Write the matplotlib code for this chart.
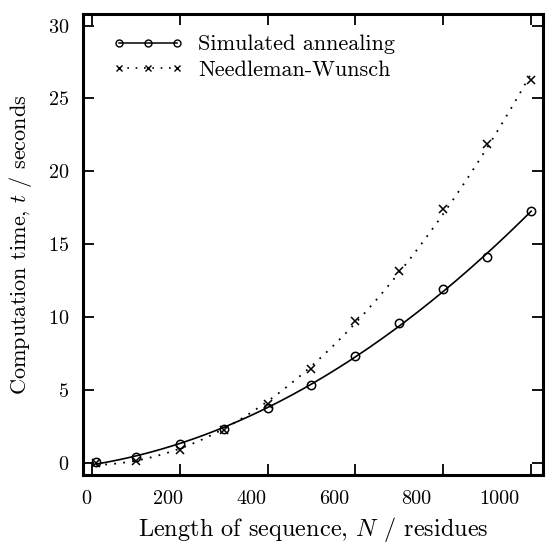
import matplotlib
matplotlib.use("Agg")
import matplotlib.pyplot as plt
import numpy as np

# sequence lengths (residues)
lengths = [10, 100, 200, 300, 400, 500, 600, 700, 800, 900, 1000]
# computation times (seconds)
sa_times = [0.05, 0.4, 1.25, 2.32, 3.72, 5.3, 7.35, 9.6, 11.95, 14.1, 17.27]
nw_times = [0.0, 0.12, 0.9, 2.25, 4.05, 6.41, 9.69, 13.13, 17.4, 21.9, 26.3]

x_ticks = [0, 200, 400, 600, 800, 1000]
y_ticks = [0, 5, 10, 15, 20, 25, 30]

plt.rcParams['font.family'] = 'serif'
plt.rcParams['font.serif'] = ['cmr10']
plt.rcParams['mathtext.fontset'] = 'cm'
plt.rcParams['axes.formatter.use_mathtext'] = True
plt.rcParams['font.size'] = 16


def fit_curve(x, y):
    # quadratic fit through the measured points
    coeffs = np.polyfit(x, y, 2)
    xs = np.linspace(min(x), max(x), 200)
    return xs, np.polyval(coeffs, xs)


fig = plt.figure(figsize=(5.52, 5.43), dpi=100)
ax = fig.add_axes([0.1504, 0.1252, 0.8333, 0.849])

xs, ys = fit_curve(lengths, sa_times)
ax.plot(xs, ys, color='black', lw=1.2)
xs, ys = fit_curve(lengths, nw_times)
ax.plot(xs, ys, color='black', lw=1.3, linestyle=(0, (1, 4)))

ax.plot(lengths, sa_times, 'o', color='black', mfc='none', ms=6, mew=1.1)
ax.plot(lengths, nw_times, 'x', color='black', ms=6, mew=1.1)

# legend proxies
ax.plot([], [], 'o-', color='black', mfc='none', ms=5, mew=1.0, lw=1.1,
        label='Simulated annealing')
ax.plot([], [], 'x', color='black', ms=5, mew=1.0, lw=1.2,
        linestyle=(0, (1, 4)), label='Needleman-Wunsch')
ax.legend(loc='upper left', bbox_to_anchor=(0.0043, 1.015), frameon=False,
          numpoints=3, handlelength=3.2, borderaxespad=0.85,
          handletextpad=0.63, labelspacing=0.25, fontsize=16)

ax.set_xlim(-20, 1027)
ax.set_ylim(-0.85, 30.8)
ax.set_xticks(x_ticks)
ax.set_yticks(y_ticks)

for s in ax.spines.values():
    s.set_linewidth(2.2)
ax.tick_params(direction='in', length=8, width=1.3, colors='black',
               top=True, bottom=True, left=True, right=True,
               pad=10, labelsize=14.5)
ax.tick_params(axis='x', labelbottom=False)

# the x tick labels in the original sit on a slightly compressed scale
for v in x_ticks:
    ax.text(0.941 * v - 13.7, -0.052, str(v), fontsize=14.5, color='black',
            ha='center', va='center', clip_on=False, zorder=5,
            transform=ax.get_xaxis_transform())

ax.set_xlabel('Length of sequence, $N$ / residues', labelpad=29,
              fontsize=17.5)
ax.set_ylabel('Computation time, $t$ / seconds', labelpad=10, fontsize=16)

fig.savefig('out.png', dpi=100)
